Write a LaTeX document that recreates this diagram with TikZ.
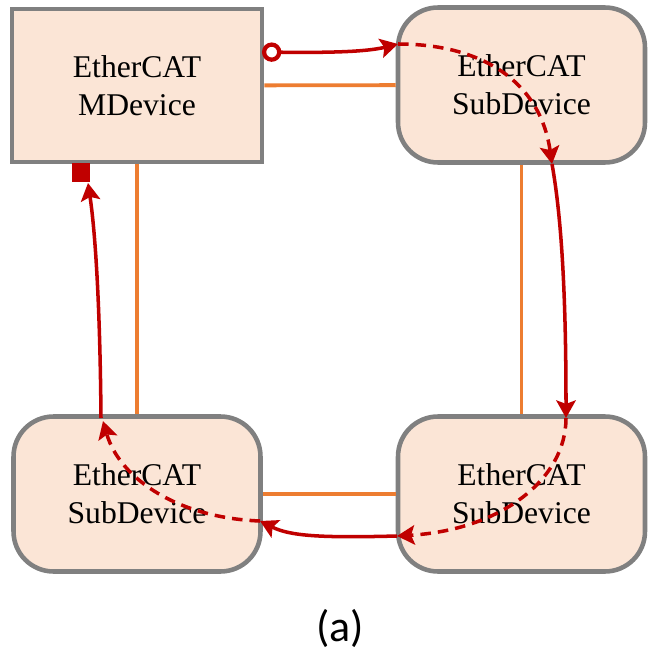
\documentclass[tikz,border=0pt]{standalone}
\usepackage{fontspec}
\setmainfont{Liberation Serif}
\newfontfamily\capfont{Carlito}
\usetikzlibrary{arrows.meta}

\definecolor{ecred}{RGB}{192,0,0}
\definecolor{ecorange}{RGB}{237,125,49}
\definecolor{ecfill}{RGB}{251,229,214}
\definecolor{ecgrey}{RGB}{128,128,128}

\tikzset{
    mdev/.style={rectangle, draw=ecgrey, fill=ecfill, line width=2.6pt, minimum width=5cm, minimum height=3.06cm, align=center, font=\fontsize{18}{21.5}\selectfont},
    sdev/.style={mdev, rounded corners=0.8cm, minimum width=4.94cm, minimum height=3.1cm},
    link/.style={draw=ecorange, line width=2.2pt},
    frame/.style={draw=ecred, line width=2pt, -{Stealth[length=10pt, width=11pt, inset=2pt]}},
    back/.style={frame, dashed, dash pattern=on 6pt off 4pt}
}

\begin{document}
\begin{tikzpicture}[x=0.02cm, y=-0.02cm]
                            \useasboundingbox (0, 0) rectangle (647, 655);

                            \node (M)[mdev] at (137, 85.5) {EtherCAT\\MDevice};
                            \node (S1)[sdev] at (521.5, 85) {EtherCAT\\SubDevice};
                            \node (S2)[sdev] at (521.5, 494) {EtherCAT\\SubDevice};
                            \node (S3)[sdev] at (137, 494) {EtherCAT\\SubDevice};

                            \node (sq)[rectangle, fill=ecred, minimum size=0.37cm, inner sep=0pt] at (81, 172.5) {};
                            \node (lbl)[font=\capfont\fontsize{25}{30}\selectfont] at (340, 628) {(a)};

                            \coordinate (p0) at (262, 52);
                            \coordinate (p1) at (398, 44);
                            \coordinate (p2) at (552, 164);
                            \coordinate (p3) at (566, 418);
                            \coordinate (p4) at (397, 536);
                            \coordinate (p5) at (260, 521);
                            \coordinate (p6) at (103, 421);
                            \coordinate (p7) at (88, 183);

                            \draw [link] (M) -- (S1);
                            \draw [link] (S1) -- (S2);
                            \draw [link] (S2) -- (S3);
                            \draw [link] (S3) -- (M);

                            \draw [frame, {Circle[open, length=11pt, width=11pt, line width=2.4pt]}-{Stealth[length=10pt, width=11pt, inset=2pt]}] (p0) .. controls (340, 53) and (370, 51) .. (p1);
                            \draw [back] (p1) .. controls (480, 44) and (540, 80) .. (p2);
                            \draw [frame] (p2) .. controls (562, 220) and (566, 300) .. (p3);
                            \draw [back] (p3) .. controls (566, 480) and (500, 530) .. (p4);
                            \draw [frame] (p4) .. controls (320, 538) and (290, 536) .. (p5);
                            \draw [back] (p5) .. controls (180, 518) and (120, 480) .. (p6);
                            \draw [frame] (101, 418) .. controls (100, 300) and (95, 230) .. (p7);
                        \end{tikzpicture}
\end{document}
